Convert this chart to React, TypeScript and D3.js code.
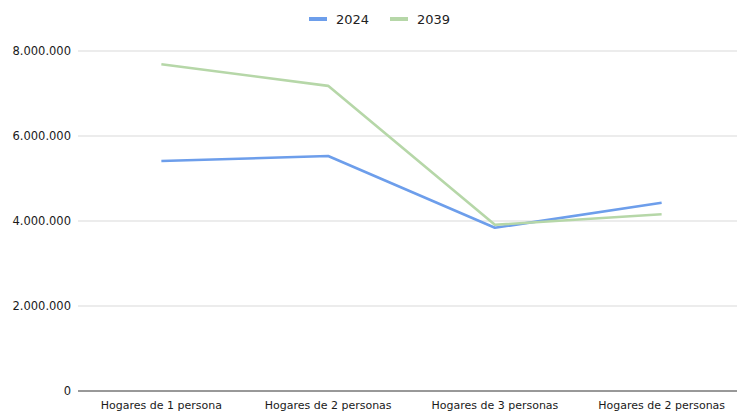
import React from "react";
import * as d3 from "d3";

const categories = ["Hogares de 1 persona", "Hogares de 2 personas", "Hogares de 3 personas", "Hogares de 2 personas "];
const series2024 = [5410000, 5530000, 3840000, 4430000];
const series2039 = [7690000, 7180000, 3910000, 4160000];
const yTicks = [0, 2000000, 4000000, 6000000, 8000000];
const seriesNames = ["2024", "2039"];
const colors = ["#6d9eeb", "#b6d7a8"];

const W = 737, H = 412;
const margin = { left: 78, right: -8, top: 51, bottom: 21 };

export default function App() {
  const x = d3.scalePoint<string>().domain(categories.map((c, i) => i + "")).range([margin.left, W - margin.right]).padding(0.5);
  const y = d3.scaleLinear().domain([0, 8000000]).range([H - margin.bottom, margin.top]);
  const fmt = (v: number) => v === 0 ? "0" : d3.format(",")(v).replace(/,/g, ".");
  const line = d3.line<number>().x((_, i) => x(i + "")!).y(d => y(d));
  const all = [series2024, series2039];
  return (
    <svg width={W} height={H} style={{ position: "absolute", left: 0, top: 0, background: "#fff" }} fontFamily="DejaVu Sans, Verdana, sans-serif">
      {yTicks.map(t => (
        <g key={t}>
          <line x1={margin.left} x2={W} y1={y(t)} y2={y(t)} stroke={t === 0 ? "#333" : "#d9d9d9"} strokeWidth={1} />
          <text x={71} y={y(t)} dy="0.35em" textAnchor="end" fontSize={11.5} fill="#1a1a1a">{fmt(t)}</text>
        </g>
      ))}
      {categories.map((c, i) => (
        <text key={i} x={x(i + "")} y={H - 3} textAnchor="middle" fontSize={11} fill="#1a1a1a">{c.trim()}</text>
      ))}
      {all.map((s, k) => (
        <path key={k} d={line(s)!} fill="none" stroke={colors[k]} strokeWidth={2.6} strokeLinejoin="round" />
      ))}
      {seriesNames.map((n, k) => (
        <g key={n} transform={`translate(${309 + k * 81},19)`}>
          <rect x={0} y={-2} width={18} height={4} fill={colors[k]} />
          <text x={27} y={0} dy="0.35em" fontSize={13} fill="#222">{n}</text>
        </g>
      ))}
    </svg>
  );
}
